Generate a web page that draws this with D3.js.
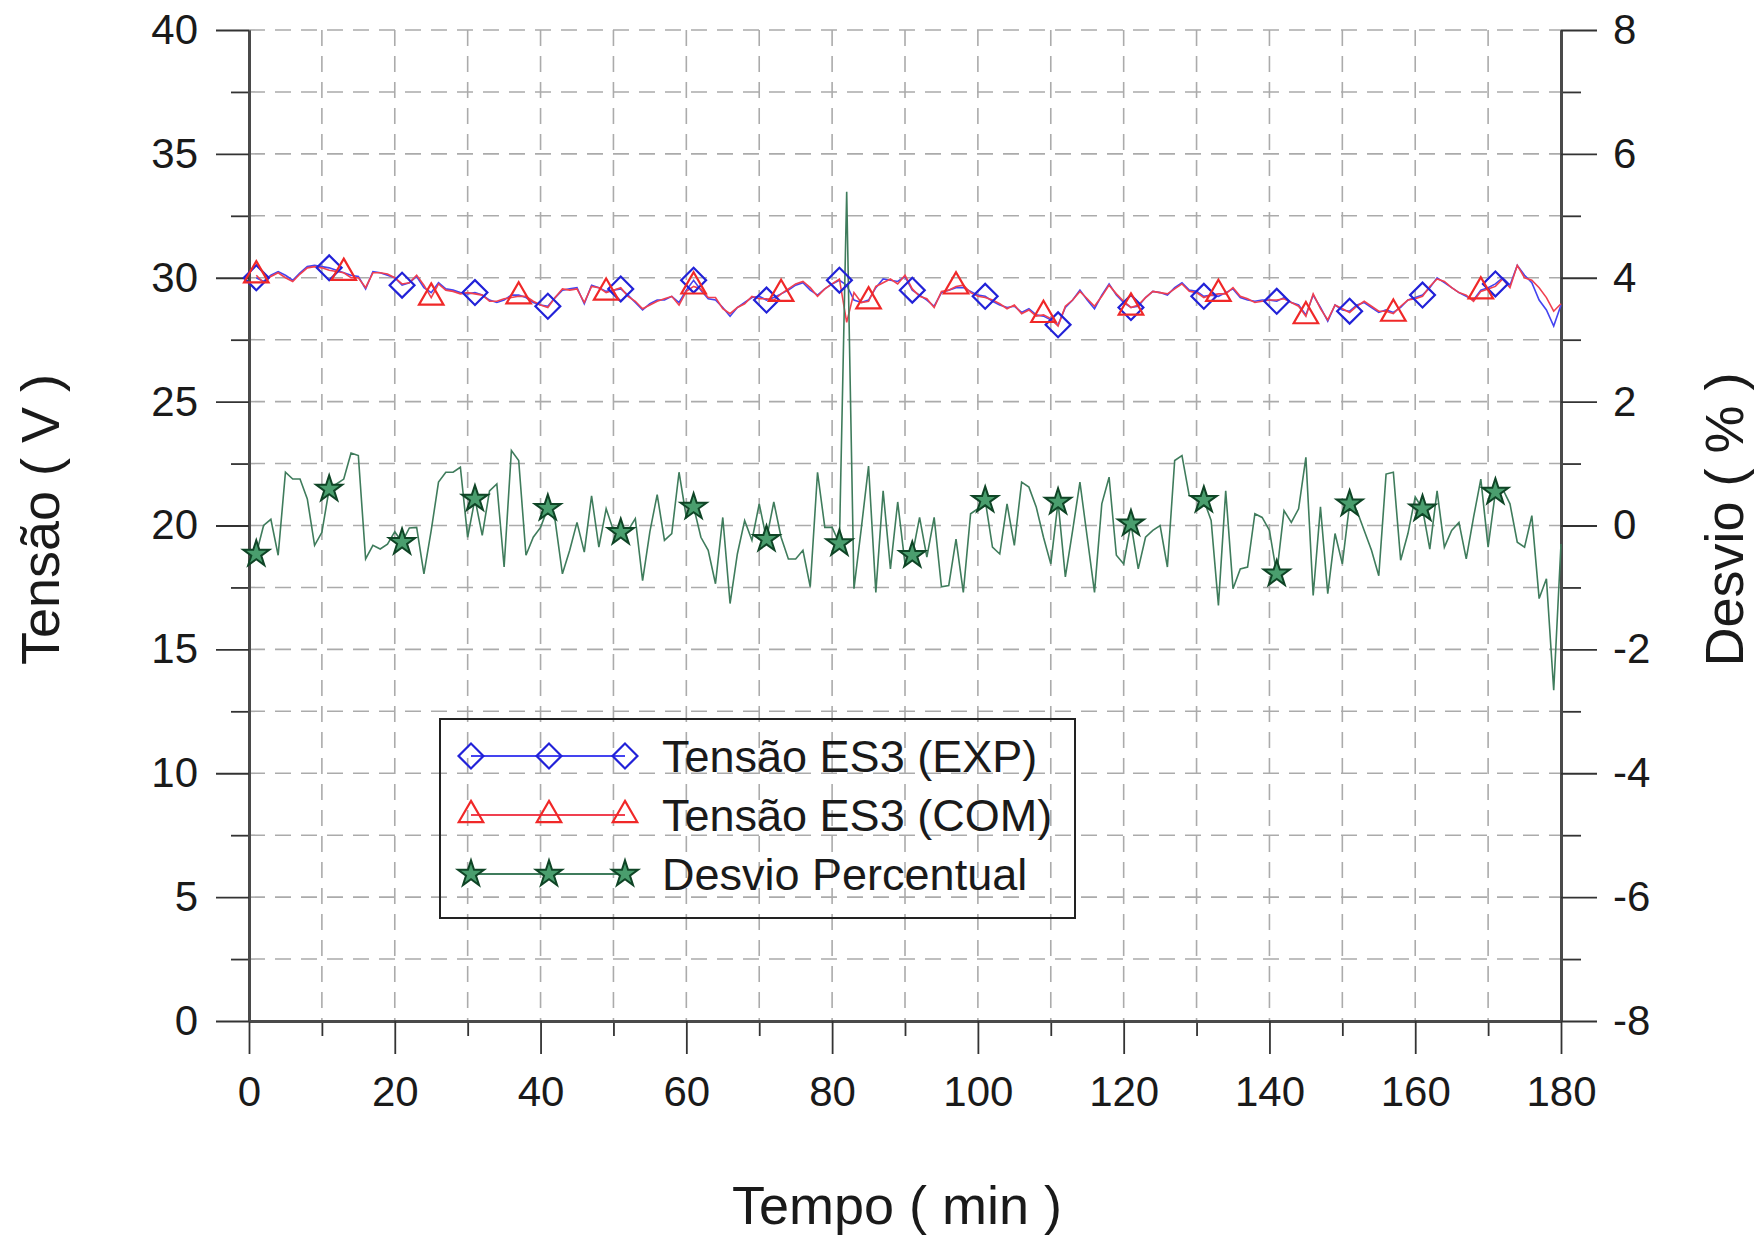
<!DOCTYPE html>
<html>
<head>
<meta charset="utf-8">
<script src="https://cdn.jsdelivr.net/npm/d3@7"></script>
<style>
  body { margin: 0; background: #fff; }
  text { font-family: "Liberation Sans", Arial, sans-serif; fill: #1a1a1a; }
</style>
</head>
<body>
<script>
// Data: one sample per minute, starting at minute 1
const firstMinute = 1;

// Tensão ES3 (EXP) in V
const tensaoExp = [
  30.0, 29.85, 30.1, 30.25, 30.1, 29.9, 30.2, 30.45, 30.5, 30.45,
  30.4, 30.3, 30.2, 30.1, 30.05, 29.55, 30.25, 30.2, 30.1, 30.0,
  29.7, 29.8, 30.05, 29.6, 29.4, 29.8, 29.55, 29.5, 29.4, 29.35,
  29.4, 29.3, 29.1, 29.0, 29.1, 29.3, 29.3, 29.2, 29.0, 28.9,
  28.85, 29.2, 29.5, 29.55, 29.6, 28.95, 29.7, 29.6, 29.45, 29.5,
  29.55, 29.3, 29.0, 28.7, 28.95, 29.1, 29.1, 29.25, 29.0, 29.5,
  29.9, 29.5, 29.15, 29.1, 28.8, 28.45, 28.8, 29.0, 29.2, 29.25,
  29.1, 29.2, 29.35, 29.5, 29.7, 29.8, 29.5, 29.3, 29.55, 29.75,
  29.9, 29.7, 29.1, 29.0, 29.1, 29.6, 29.95, 29.9, 29.85, 30.05,
  29.5, 29.3, 29.1, 28.85, 29.4, 29.5, 29.6, 29.6, 29.45, 29.3,
  29.25, 29.05, 28.9, 28.8, 28.85, 28.6, 28.75, 28.5, 28.45, 28.3,
  28.1, 28.8, 29.1, 29.5, 29.1, 28.75, 29.3, 29.75, 29.3, 29.0,
  28.8, 28.85, 29.2, 29.45, 29.4, 29.3, 29.6, 29.8, 29.5, 29.45,
  29.25, 29.3, 29.25, 29.4, 29.55, 29.2, 29.1, 29.05, 29.1, 29.1,
  29.05, 29.2, 29.0, 28.9, 28.5, 29.3, 28.8, 28.25, 28.9, 28.7,
  28.65, 28.9, 29.0, 28.8, 28.6, 28.7, 28.6, 28.8, 29.1, 29.2,
  29.3, 29.6, 30.0, 29.8, 29.6, 29.4, 29.25, 29.1, 29.5, 29.6,
  29.75, 30.0, 29.7, 30.5, 30.1, 29.8, 29.1, 28.7, 28.05, 28.9
];

// Tensão ES3 (COM) in V
const tensaoCom = [
  30.1, 29.8, 30.05, 30.2, 30.0, 29.85, 30.15, 30.4, 30.45, 30.4,
  30.3, 30.25, 30.2, 30.0, 30.0, 29.6, 30.2, 30.2, 30.15, 30.0,
  29.75, 29.8, 30.1, 29.7, 29.2, 29.75, 29.5, 29.45, 29.35, 29.4,
  29.35, 29.3, 29.05, 29.05, 29.15, 29.2, 29.25, 29.25, 29.05, 28.9,
  28.8, 29.2, 29.55, 29.5, 29.55, 29.0, 29.65, 29.6, 29.4, 29.5,
  29.6, 29.25, 29.05, 28.75, 28.9, 29.05, 29.15, 29.25, 28.9, 29.45,
  29.65, 29.55, 29.2, 29.2, 28.75, 28.55, 28.8, 28.95, 29.25, 29.15,
  29.15, 29.1, 29.35, 29.55, 29.75, 29.85, 29.6, 29.25, 29.55, 29.75,
  29.95, 28.2, 29.4, 29.0, 29.05, 29.65, 29.8, 29.95, 29.75, 30.1,
  29.55, 29.25, 29.15, 28.8, 29.45, 29.5, 29.65, 29.7, 29.4, 29.25,
  29.2, 29.1, 28.95, 28.75, 28.9, 28.55, 28.7, 28.45, 28.5, 28.35,
  28.05, 28.85, 29.1, 29.45, 29.15, 28.85, 29.25, 29.7, 29.35, 29.05,
  28.8, 28.9, 29.2, 29.45, 29.4, 29.35, 29.55, 29.75, 29.45, 29.4,
  29.2, 29.3, 29.35, 29.35, 29.6, 29.25, 29.15, 29.0, 29.05, 29.1,
  29.1, 29.15, 29.0, 28.85, 28.45, 29.35, 28.75, 28.3, 28.9, 28.75,
  28.6, 28.85, 29.05, 28.85, 28.65, 28.65, 28.55, 28.85, 29.1, 29.15,
  29.25, 29.65, 29.95, 29.85, 29.6, 29.4, 29.3, 29.05, 29.45, 29.55,
  29.65, 29.95, 29.6, 30.5, 30.0, 29.9, 29.6, 29.2, 28.65, 28.95
];

// Desvio Percentual in %
const desvio = [
  -0.46, 0.0, 0.10, -0.48, 0.86, 0.75, 0.75, 0.43, -0.32, -0.11,
  0.59, 0.67, 0.75, 1.17, 1.13, -0.54, -0.32, -0.38, -0.30, -0.10,
  -0.27, -0.04, -0.03, -0.78, -0.08, 0.70, 0.86, 0.86, 0.94, -0.19,
  0.43, -0.16, 0.56, 0.67, -0.67, 1.21, 1.05, -0.48, -0.19, -0.03,
  0.28, 0.08, -0.78, -0.40, 0.05, -0.43, 0.48, -0.35, 0.27, -0.08,
  -0.11, -0.08, 0.11, -0.89, -0.10, 0.50, -0.24, -0.13, 0.86, 0.13,
  0.30, -0.19, -0.40, -0.94, 0.13, -1.26, -0.46, 0.08, -0.24, 0.35,
  -0.22, 0.38, -0.19, -0.54, -0.54, -0.40, -0.99, 0.86, -0.03, -0.03,
  -0.29, 5.39, -1.02, -0.05, 0.96, -1.08, 0.56, -0.70, 0.38, -0.62,
  -0.48, 0.13, -0.51, 0.13, -0.99, -0.97, -0.22, -1.08, 0.19, 0.27,
  0.41, -0.35, -0.46, 0.35, -0.32, 0.70, 0.62, 0.30, -0.19, -0.62,
  0.38, -0.83, -0.08, 0.70, -0.19, -1.08, 0.35, 0.78, -0.48, -0.62,
  0.03, -0.70, -0.19, -0.08, 0.00, -0.67, 1.05, 1.13, 0.48, 0.46,
  0.41, 0.08, -1.29, 0.56, -1.02, -0.70, -0.67, 0.19, 0.13, -0.08,
  -0.78, 0.24, 0.05, 0.27, 1.10, -1.13, 0.30, -1.10, -0.13, -0.62,
  0.35, 0.24, -0.08, -0.40, -0.81, 0.83, 0.86, -0.56, -0.13, 0.46,
  0.27, -0.38, 0.56, -0.35, -0.08, 0.05, -0.54, 0.13, 0.75, -0.35,
  0.54, 0.59, 0.35, -0.27, -0.35, 0.16, -1.18, -0.86, -2.66, -0.30
];

// Tick labels
const xTicks = [0, 20, 40, 60, 80, 100, 120, 140, 160, 180];
const xMinor = [10, 30, 50, 70, 90, 110, 130, 150, 170];
const yLeftTicks = [0, 5, 10, 15, 20, 25, 30, 35, 40];
const yLeftMinor = [2.5, 7.5, 12.5, 17.5, 22.5, 27.5, 32.5, 37.5];
const yRightTicks = [-8, -6, -4, -2, 0, 2, 4, 6, 8];
const yRightMinor = [-7, -5, -3, -1, 1, 3, 5, 7];

// Markers every N samples
const expEvery = 10, comEvery = 12, desvioEvery = 10;

const W = 1759, H = 1238;
const margin = {top: 30, right: 198, bottom: 217, left: 249};
const width = W - margin.left - margin.right;
const height = H - margin.top - margin.bottom;

const svg = d3.select("body").append("svg")
    .attr("width", W)
    .attr("height", H);

const g = svg.append("g")
    .attr("transform", "translate(" + margin.left + "," + margin.top + ")");

const x = d3.scaleLinear().domain([0, 180]).range([0, width]);
const yL = d3.scaleLinear().domain([0, 40]).range([height, 0]);
const yR = d3.scaleLinear().domain([-8, 8]).range([height, 0]);

const minute = (d, i) => x(firstMinute + i);

// Grid (dashed)
const gridColor = "#ababab";
g.append("g").selectAll("line")
    .data(xMinor.concat(xTicks.slice(1, -1)))
    .enter().append("line")
    .attr("x1", d => x(d)).attr("x2", d => x(d))
    .attr("y1", 0).attr("y2", height)
    .attr("stroke", gridColor).attr("stroke-width", 1.6)
    .attr("stroke-dasharray", "16,10");

g.append("g").selectAll("line")
    .data(yLeftTicks.slice(1).concat(yLeftMinor))
    .enter().append("line")
    .attr("x1", 0).attr("x2", width)
    .attr("y1", d => yL(d)).attr("y2", d => yL(d))
    .attr("stroke", gridColor).attr("stroke-width", 1.6)
    .attr("stroke-dasharray", "16,10");

// Axes
function styleAxis(sel) {
  sel.select(".domain").attr("stroke", "#4a4a4a").attr("stroke-width", 3);
  sel.selectAll(".tick line").attr("stroke", "#333").attr("stroke-width", 1.8);
  sel.selectAll(".tick text").attr("fill", "#1a1a1a")
    .style("font-size", "42px").style("font-family", "'Liberation Sans', Arial, sans-serif");
}

g.append("g")
    .attr("transform", "translate(0," + height + ")")
    .call(d3.axisBottom(x).tickValues(xMinor).tickSize(15).tickSizeOuter(0).tickFormat(""))
    .call(styleAxis);
g.append("g")
    .attr("transform", "translate(0," + height + ")")
    .call(d3.axisBottom(x).tickValues(xTicks).tickSize(33).tickPadding(22).tickSizeOuter(0).tickFormat(d => String(d)))
    .call(styleAxis);

g.append("g")
    .call(d3.axisLeft(yL).tickValues(yLeftMinor).tickSize(18).tickSizeOuter(0).tickFormat(""))
    .call(styleAxis);
g.append("g")
    .call(d3.axisLeft(yL).tickValues(yLeftTicks).tickSize(33).tickPadding(18).tickSizeOuter(0).tickFormat(d => String(d)))
    .call(styleAxis);

g.append("g")
    .attr("transform", "translate(" + width + ",0)")
    .call(d3.axisRight(yR).tickValues(yRightMinor).tickSize(20).tickSizeOuter(0).tickFormat(""))
    .call(styleAxis);
g.append("g")
    .attr("transform", "translate(" + width + ",0)")
    .call(d3.axisRight(yR).tickValues(yRightTicks).tickSize(36).tickPadding(16).tickSizeOuter(0).tickFormat(d => String(d)))
    .call(styleAxis);

// Series
const blue = "#2222d8", red = "#f02828", green = "#3f7c5c";
const starStroke = "#0f4526", starFill = "#4a9e6e";

const lineL = d3.line().x(minute).y(d => yL(d));
const lineR = d3.line().x(minute).y(d => yR(d));

g.append("path").datum(tensaoExp)
    .attr("d", lineL).attr("fill", "none")
    .attr("stroke", "#4444f0").attr("stroke-width", 1.6);
g.append("path").datum(tensaoCom)
    .attr("d", lineL).attr("fill", "none")
    .attr("stroke", "#f04050").attr("stroke-width", 1.6);
g.append("path").datum(desvio)
    .attr("d", lineR).attr("fill", "none")
    .attr("stroke", green).attr("stroke-width", 1.6);

const diamond = d3.symbol().type(d3.symbolSquare).size(310);
const triangle = d3.symbol().type(d3.symbolTriangle).size(260);
const star = d3.symbol().type(d3.symbolStar).size(210);

function drawMarkers(values, every, yScale, symbolGen, rotate, stroke, fill, sw) {
  const pts = values.map((v, i) => ({v: v, i: i})).filter(d => d.i % every === 0);
  g.append("g").selectAll("path")
    .data(pts)
    .enter().append("path")
    .attr("d", symbolGen)
    .attr("transform", d => "translate(" + minute(d.v, d.i) + "," + yScale(d.v) + ") rotate(" + rotate + ")")
    .attr("fill", fill)
    .attr("stroke", stroke)
    .attr("stroke-width", sw);
}

drawMarkers(tensaoExp, expEvery, yL, diamond, 45, blue, "none", 2.2);
drawMarkers(tensaoCom, comEvery, yL, triangle, 0, red, "none", 2.2);
drawMarkers(desvio, desvioEvery, yR, star, 0, starStroke, starFill, 2);

// Axis titles
svg.append("text")
    .attr("x", margin.left + width / 2 - 8)
    .attr("y", 1224)
    .attr("text-anchor", "middle")
    .style("font-size", "54px")
    .text("Tempo ( min )");

svg.append("text")
    .attr("transform", "translate(59," + (margin.top + height / 2 - 6) + ") rotate(-90)")
    .attr("text-anchor", "middle")
    .style("font-size", "54px")
    .text("Tensão ( V )");

svg.append("text")
    .attr("transform", "translate(1743," + (margin.top + height / 2 - 6) + ") rotate(-90)")
    .attr("text-anchor", "middle")
    .style("font-size", "54px")
    .text("Desvio ( % )");

// Legend
const legendItems = [
  {label: "Tensão ES3 (EXP)", color: "#4444f0", sym: diamond, rot: 45, stroke: blue, fill: "none", sw: 2.2},
  {label: "Tensão ES3 (COM)", color: "#f04050", sym: triangle, rot: 0, stroke: red, fill: "none", sw: 2.2},
  {label: "Desvio Percentual", color: green, sym: star, rot: 0, stroke: starStroke, fill: starFill, sw: 2}
];

const legend = svg.append("g").attr("transform", "translate(440,719)");
legend.append("rect")
    .attr("width", 635).attr("height", 199)
    .attr("fill", "none").attr("stroke", "#222").attr("stroke-width", 2);

const rows = legend.selectAll(".legend")
    .data(legendItems)
    .enter().append("g")
    .attr("class", "legend")
    .attr("transform", (d, i) => "translate(0," + (37 + i * 59) + ")");

rows.append("line")
    .attr("x1", 31).attr("x2", 185)
    .attr("stroke", d => d.color).attr("stroke-width", 2);

rows.each(function(d) {
  d3.select(this).selectAll("path")
    .data([31, 109, 185])
    .enter().append("path")
    .attr("d", d.sym)
    .attr("transform", px => "translate(" + px + ",0) rotate(" + d.rot + ")")
    .attr("fill", d.fill)
    .attr("stroke", d.stroke)
    .attr("stroke-width", d.sw);
});

rows.append("text")
    .attr("x", 222)
    .attr("y", 16)
    .style("font-size", "45px")
    .text(d => d.label);
</script>
</body>
</html>
